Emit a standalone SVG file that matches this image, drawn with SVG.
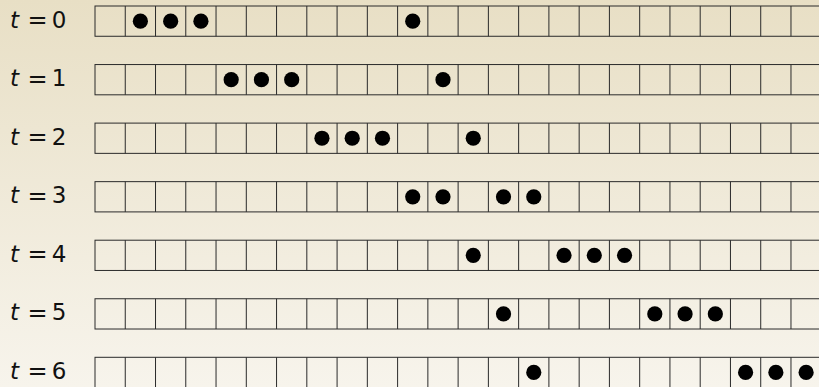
<svg xmlns="http://www.w3.org/2000/svg" xmlns:xlink="http://www.w3.org/1999/xlink" width="819" height="387" viewBox="0 0 819 387">
<defs>
<linearGradient id="bg" x1="0" y1="0" x2="0" y2="1">
<stop offset="0" stop-color="#e8dfc5"/>
<stop offset="1" stop-color="#f7f4ec"/>
</linearGradient>
<g id="cells">
<rect x="95" y="0" width="726.24" height="30.26" fill="none" stroke="#2a2a2a" stroke-width="1"/>
<path d="M125.26 0V30.26M155.52 0V30.26M185.78 0V30.26M216.04 0V30.26M246.3 0V30.26M276.56 0V30.26M306.82 0V30.26M337.08 0V30.26M367.34 0V30.26M397.6 0V30.26M427.86 0V30.26M458.12 0V30.26M488.38 0V30.26M518.64 0V30.26M548.9 0V30.26M579.16 0V30.26M609.42 0V30.26M639.68 0V30.26M669.94 0V30.26M700.2 0V30.26M730.46 0V30.26M760.72 0V30.26M790.98 0V30.26" fill="none" stroke="#2a2a2a" stroke-width="1"/>
</g>
</defs>
<style>
.lbl{font-family:"DejaVu Sans","Liberation Sans",sans-serif;font-size:23px;fill:#111}
.eq{font-size:24px}
.it{font-style:italic}
.dot{fill:#000}
</style>
<rect x="0" y="0" width="819" height="387" fill="url(#bg)"/>

<g id="row0" transform="translate(0,6)">
<text class="lbl it" x="10" y="21.5">t</text><text class="lbl eq" x="37.5" y="22" text-anchor="middle">=</text><text class="lbl" x="59" y="21.5" text-anchor="middle">0</text>
<use xlink:href="#cells"/>
<circle class="dot" cx="140.39" cy="15.13" r="7.6"/><circle class="dot" cx="170.65" cy="15.13" r="7.6"/><circle class="dot" cx="200.91" cy="15.13" r="7.6"/><circle class="dot" cx="412.73" cy="15.13" r="7.6"/>
</g>

<g id="row1" transform="translate(0,64.55)">
<text class="lbl it" x="10" y="21.5">t</text><text class="lbl eq" x="37.5" y="22" text-anchor="middle">=</text><text class="lbl" x="59" y="21.5" text-anchor="middle">1</text>
<use xlink:href="#cells"/>
<circle class="dot" cx="231.17" cy="15.13" r="7.6"/><circle class="dot" cx="261.43" cy="15.13" r="7.6"/><circle class="dot" cx="291.69" cy="15.13" r="7.6"/><circle class="dot" cx="442.99" cy="15.13" r="7.6"/>
</g>

<g id="row2" transform="translate(0,123.1)">
<text class="lbl it" x="10" y="21.5">t</text><text class="lbl eq" x="37.5" y="22" text-anchor="middle">=</text><text class="lbl" x="59" y="21.5" text-anchor="middle">2</text>
<use xlink:href="#cells"/>
<circle class="dot" cx="321.95" cy="15.13" r="7.6"/><circle class="dot" cx="352.21" cy="15.13" r="7.6"/><circle class="dot" cx="382.47" cy="15.13" r="7.6"/><circle class="dot" cx="473.25" cy="15.13" r="7.6"/>
</g>

<g id="row3" transform="translate(0,181.65)">
<text class="lbl it" x="10" y="21.5">t</text><text class="lbl eq" x="37.5" y="22" text-anchor="middle">=</text><text class="lbl" x="59" y="21.5" text-anchor="middle">3</text>
<use xlink:href="#cells"/>
<circle class="dot" cx="412.73" cy="15.13" r="7.6"/><circle class="dot" cx="442.99" cy="15.13" r="7.6"/><circle class="dot" cx="503.51" cy="15.13" r="7.6"/><circle class="dot" cx="533.77" cy="15.13" r="7.6"/>
</g>

<g id="row4" transform="translate(0,240.2)">
<text class="lbl it" x="10" y="21.5">t</text><text class="lbl eq" x="37.5" y="22" text-anchor="middle">=</text><text class="lbl" x="59" y="21.5" text-anchor="middle">4</text>
<use xlink:href="#cells"/>
<circle class="dot" cx="473.25" cy="15.13" r="7.6"/><circle class="dot" cx="564.03" cy="15.13" r="7.6"/><circle class="dot" cx="594.29" cy="15.13" r="7.6"/><circle class="dot" cx="624.55" cy="15.13" r="7.6"/>
</g>

<g id="row5" transform="translate(0,298.75)">
<text class="lbl it" x="10" y="21.5">t</text><text class="lbl eq" x="37.5" y="22" text-anchor="middle">=</text><text class="lbl" x="59" y="21.5" text-anchor="middle">5</text>
<use xlink:href="#cells"/>
<circle class="dot" cx="503.51" cy="15.13" r="7.6"/><circle class="dot" cx="654.81" cy="15.13" r="7.6"/><circle class="dot" cx="685.07" cy="15.13" r="7.6"/><circle class="dot" cx="715.33" cy="15.13" r="7.6"/>
</g>

<g id="row6" transform="translate(0,357.3)">
<text class="lbl it" x="10" y="21.5">t</text><text class="lbl eq" x="37.5" y="22" text-anchor="middle">=</text><text class="lbl" x="59" y="21.5" text-anchor="middle">6</text>
<use xlink:href="#cells"/>
<circle class="dot" cx="533.77" cy="15.13" r="7.6"/><circle class="dot" cx="745.59" cy="15.13" r="7.6"/><circle class="dot" cx="775.85" cy="15.13" r="7.6"/><circle class="dot" cx="806.11" cy="15.13" r="7.6"/>
</g>
</svg>
